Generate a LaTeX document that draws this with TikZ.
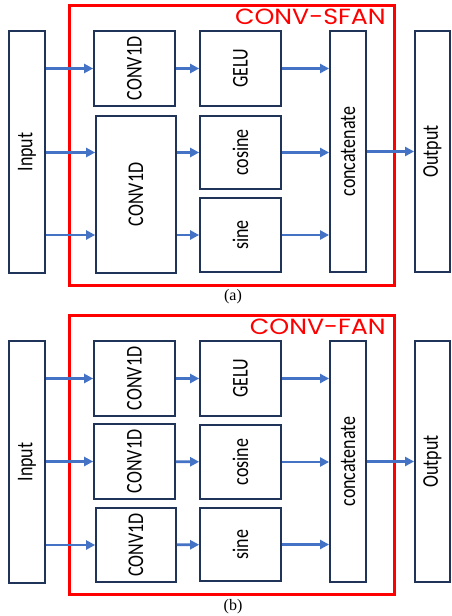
\documentclass[tikz,border=0pt]{standalone}
\usepackage{fontspec}
\setmainfont{Carlito}
\newfontfamily\titlefont[FakeStretch=1.15]{Poppins}
\newfontfamily\capfont{Liberation Serif}
\usetikzlibrary{arrows.meta}
\definecolor{boxline}{HTML}{1F3458}
\definecolor{arrowblue}{HTML}{4472C4}
\newcommand{\uplabel}[1]{\rotatebox{90}{\scalebox{1}[1.25]{#1}}}

\begin{document}
\begin{tikzpicture}[x=1bp, y=-1bp,
		block/.style={shape=rectangle, draw=boxline, line width=2bp, inner sep=0pt,
			font=\fontsize{18bp}{20bp}\selectfont},
		frame/.style={shape=rectangle, draw=red, line width=3bp, inner sep=0pt},
		flow/.style={draw=arrowblue, line width=2.7bp, -{Triangle[length=9bp,width=9bp]}},
		title/.style={text=red, font=\titlefont\fontsize{22bp}{24bp}\selectfont, inner sep=0pt},
		caption/.style={font=\capfont\fontsize{16bp}{18bp}\selectfont}]
		
		\useasboundingbox (0,0) rectangle (452,616);
		
		% (a) CONV-SFAN
		\node (frameA) at (232,145.5) [frame, minimum width=326, minimum height=281] {};
		\node (titleA) [title, anchor=north east] at ([xshift=-10bp, yshift=-5bp]frameA.north east) {CONV-SFAN};
		\node (inA) at (27,152) [block, minimum width=36, minimum height=242] {\uplabel{Input}};
		\node (c1A) at (134.5,68.5) [block, minimum width=81, minimum height=75] {\uplabel{CONV1D}};
		\node (c2A) at (136,194.5) [block, minimum width=80, minimum height=157] {\uplabel{CONV1D}};
		\node (geluA) at (240.5,68.5) [block, minimum width=81, minimum height=75] {\uplabel{GELU}};
		\node (cosA) at (240.5,152.5) [block, minimum width=81, minimum height=73] {\uplabel{cosine}};
		\node (sinA) at (240.5,235) [block, minimum width=81, minimum height=74] {\uplabel{sine}};
		\node (catA) at (348,151.5) [block, minimum width=36, minimum height=241] {\uplabel{concatenate}};
		\node (outA) at (432.5,151.5) [block, minimum width=35, minimum height=241] {\uplabel{Output}};
		\node (capA) at (233,297) [caption] {(a)};
		
		\draw[flow] (inA.east |- c1A) -- (c1A);
		\draw[flow] (inA.east |- cosA) -- (c2A.west |- cosA);
		\draw[flow] (inA.east |- sinA) -- (c2A.west |- sinA);
		\draw[flow] (c1A) -- (geluA);
		\draw[flow] (c2A.east |- cosA) -- (cosA);
		\draw[flow] (c2A.east |- sinA) -- (sinA);
		\draw[flow] (geluA) -- (catA.west |- geluA);
		\draw[flow] (cosA) -- (catA.west |- cosA);
		\draw[flow] (sinA) -- (catA.west |- sinA);
		\draw[flow] (catA) -- (outA);
		
		% (b) CONV-FAN
		\node (frameB) at (232,455) [frame, minimum width=326, minimum height=280] {};
		\node (titleB) [title, anchor=north east] at ([xshift=-10bp, yshift=-5bp]frameB.north east) {CONV-FAN};
		\node (inB) at (27,462) [block, minimum width=36, minimum height=242] {\uplabel{Input}};
		\node (c1B) at (134.5,378.5) [block, minimum width=81, minimum height=75] {\uplabel{CONV1D}};
		\node (c2B) at (134.5,461.5) [block, minimum width=81, minimum height=75] {\uplabel{CONV1D}};
		\node (c3B) at (136,545) [block, minimum width=80, minimum height=75] {\uplabel{CONV1D}};
		\node (geluB) at (240.5,378.5) [block, minimum width=81, minimum height=75] {\uplabel{GELU}};
		\node (cosB) at (240.5,462) [block, minimum width=81, minimum height=74] {\uplabel{cosine}};
		\node (sinB) at (240.5,544.5) [block, minimum width=81, minimum height=73] {\uplabel{sine}};
		\node (catB) at (348,461.5) [block, minimum width=36, minimum height=241] {\uplabel{concatenate}};
		\node (outB) at (432.5,461.5) [block, minimum width=35, minimum height=241] {\uplabel{Output}};
		\node (capB) at (233,607) [caption] {(b)};
		
		\draw[flow] (inB.east |- c1B) -- (c1B);
		\draw[flow] (inB.east |- c2B) -- (c2B);
		\draw[flow] (inB.east |- c3B) -- (c3B);
		\draw[flow] (c1B) -- (geluB);
		\draw[flow] (c2B) -- (cosB);
		\draw[flow] (c3B) -- (sinB);
		\draw[flow] (geluB) -- (catB.west |- geluB);
		\draw[flow] (cosB) -- (catB.west |- cosB);
		\draw[flow] (sinB) -- (catB.west |- sinB);
		\draw[flow] (catB) -- (outB);
	\end{tikzpicture}
\end{document}
